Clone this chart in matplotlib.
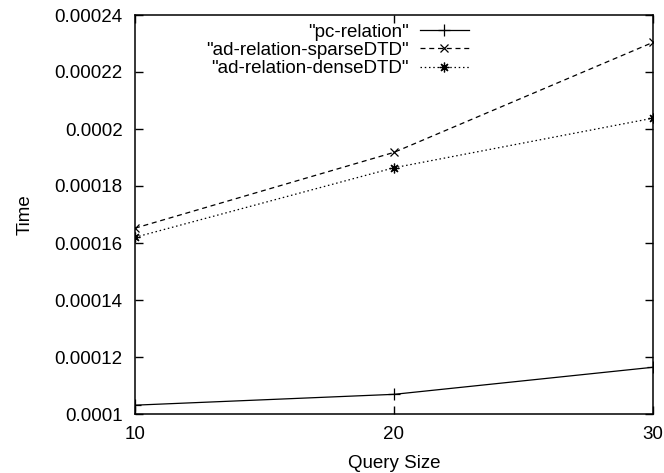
import matplotlib
matplotlib.use("Agg")
import matplotlib.pyplot as plt
from matplotlib.ticker import FixedLocator

plt.rcParams['font.family'] = ['Liberation Sans', 'DejaVu Sans']

query_size = [10, 20, 30]
pc_relation = [0.0001031, 0.0001069, 0.0001164]
ad_sparse = [0.0001652, 0.0001918, 0.0002304]
ad_dense = [0.0001620, 0.0001864, 0.0002038]
series_labels = ['"pc-relation"', '"ad-relation-sparseDTD"', '"ad-relation-denseDTD"']
y_ticks = [0.0001, 0.00012, 0.00014, 0.00016, 0.00018, 0.0002, 0.00022, 0.00024]
y_tick_labels = ["0.0001", "0.00012", "0.00014", "0.00016", "0.00018", "0.0002", "0.00022", "0.00024"]
x_ticks = [10, 20, 30]
x_tick_labels = ["10", "20", "30"]

W, H = 664, 473
fig = plt.figure(figsize=(W / 100, H / 100), dpi=100)
L, R, T, B = 135, 653, 15, 414
ax = fig.add_axes([L / W, 1 - B / H, (R - L) / W, (B - T) / H])

fs = 13.5
lw = 0.9
ax.plot(query_size, pc_relation, color='black', lw=lw, ls='-', marker='+', ms=8, mew=0.9,
        label=series_labels[0])
ax.plot(query_size, ad_sparse, color='black', lw=lw, ls=(0, (4, 3)), marker='x', ms=6, mew=0.9,
        label=series_labels[1])
ax.plot(query_size, ad_dense, color='black', lw=lw, ls=(0, (1.2, 2.2)), marker=(8, 2, 0), ms=7, mew=0.9,
        label=series_labels[2])

ax.set_xlim(10, 30)
ax.set_ylim(0.0001, 0.00024)
ax.xaxis.set_major_locator(FixedLocator(x_ticks))
ax.set_xticklabels(x_tick_labels)
ax.yaxis.set_major_locator(FixedLocator(y_ticks))
ax.set_yticklabels(y_tick_labels)
ax.tick_params(direction='in', length=6, width=1, top=True, right=True, labelsize=fs)
ax.tick_params(axis='y', pad=9)
ax.tick_params(axis='x', pad=8.5)
for s in ax.spines.values():
    s.set_linewidth(1.1)

ax.set_xlabel("Query Size", fontsize=fs, labelpad=9)
ax.set_ylabel("Time", fontsize=fs, labelpad=15)

leg = ax.legend(loc='upper right', bbox_to_anchor=(0.648, 0.9825), frameon=False,
                markerfirst=False, fontsize=fs, handlelength=2.6, handletextpad=0.6,
                labelspacing=0.05, borderpad=0.1, borderaxespad=0)

fig.savefig("out.png", dpi=100)
